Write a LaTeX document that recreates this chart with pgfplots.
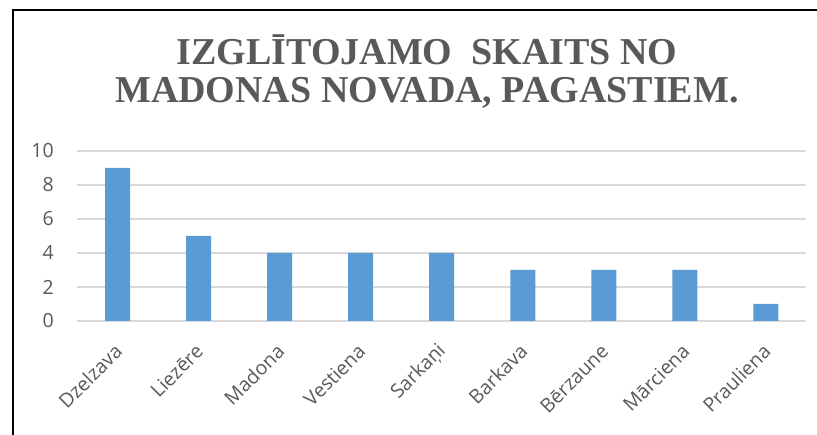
\documentclass[border=0pt]{standalone}
\usepackage{pgfplots}
\pgfplotsset{compat=1.18}
\usepackage{fontspec}
\setmainfont{Liberation Serif}
\newfontfamily\tickfont{Open Sans}
\definecolor{barblue}{HTML}{5B9BD5}
\definecolor{txtgray}{HTML}{595959}
\definecolor{gridgray}{HTML}{D9D9D9}
\begin{document}
\begin{tikzpicture}[x=1pt,y=1pt]
\useasboundingbox (0,0) rectangle (817,435);
\fill[white] (0,0) rectangle (817,435);
\draw[line width=2pt,black] (12.5,0) -- (12.5,425) -- (817,425);
\node[font=\bfseries\fontsize{38}{38}\selectfont, text=txtgray, anchor=base] at (427,370) {IZGLĪTOJAMO\ \ SKAITS NO};
\node[font=\bfseries\fontsize{38}{38}\selectfont, text=txtgray, anchor=base] at (427,332) {MADONAS NOVADA, PAGASTIEM.};
\begin{axis}[
  at={(77pt,114pt)}, anchor=south west,
  width=729.5pt, height=170pt, scale only axis,
  xmin=-0.5, xmax=8.5, ymin=0, ymax=10,
  axis line style={draw=none},
  ytick={0,2,4,6,8,10},
  xtick={0,...,8},
  xticklabels={Dzelzava,Liezēre,Madona,Vestiena,Sarkaņi,Barkava,Bērzaune,Mārciena,Prauliena},
  major tick length=0pt,
  ymajorgrids, grid style={gridgray, line width=1.5pt},
  /pgf/number format/assume math mode=true,
  tick label style={font=\tickfont\fontsize{19.5}{19.5}\selectfont, text=txtgray},
  yticklabel style={anchor=east, inner sep=0pt, xshift=-23pt},
  xticklabel style={xshift=1pt, yshift=-27pt, rotate=45, anchor=east, inner sep=0pt},
  ybar, bar width=25pt,
  clip=false,
]
\addplot[fill=barblue, draw=none] coordinates {(0,9) (1,5) (2,4) (3,4) (4,4) (5,3) (6,3) (7,3) (8,1)};
\end{axis}
\end{tikzpicture}
\end{document}
